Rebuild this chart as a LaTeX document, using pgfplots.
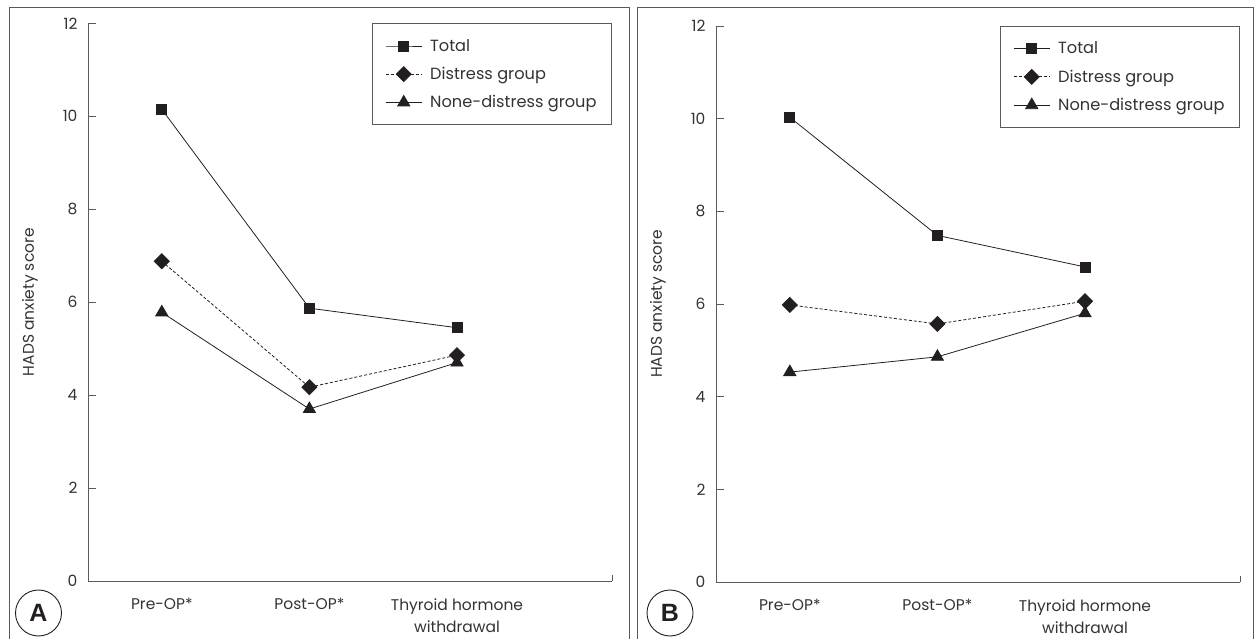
\documentclass[border=0pt]{standalone}
\usepackage{pgfplots}
\usepackage{pgfplotstable}
\pgfplotsset{compat=1.18}
\usepackage{fontspec}
\setmainfont{Poppins}
\newfontfamily\boldfont{Liberation Sans}
\definecolor{ink}{HTML}{231F20}
\definecolor{txt}{HTML}{333333}
\definecolor{axc}{HTML}{5A5A5A}

\pgfplotstableread{
x total distress none
0 10.15 6.88 5.78
1 5.87 4.17 3.70
2 5.45 4.86 4.70
}\dataA
\pgfplotstableread{
x total distress none
0 10.03 5.98 4.53
1 7.48 5.57 4.86
2 6.80 6.06 5.80
}\dataB

\pgfplotsset{
  panel/.style={
    scale only axis, width=524pt,
    xmin=-0.5, xmax=3.05, ymin=0, ymax=12,
    axis x line=bottom, axis y line=left,
    axis line style={-, axc, line width=0.9pt},
    xtick={0,1,2},
    xticklabels={Pre-OP*,Post-OP*,{Thyroid hormone\\withdrawal}},
    major x tick style={draw=none},
    ytick={0,2,...,12},
    tick align=inside, major tick length=8pt,
    major y tick style={axc, line width=0.9pt},
    tick label style={font=\fontsize{15.5}{22}\selectfont, text=txt},
    xticklabel style={align=center, yshift=-14pt},
    yticklabel style={xshift=-7pt},
    /pgf/number format/assume math mode=true,
    ylabel={HADS anxiety score},
    every axis y label/.style={at={(axis description cs:0,0.5)}, xshift=-58pt, rotate=90, anchor=center, font=\fontsize{15.5}{18}\selectfont, text=txt},
    legend style={at={(1,1)}, anchor=north east, draw=axc, line width=0.9pt,
      font=\fontsize{16.2}{18}\selectfont, text=txt, row sep=11.5pt, column sep=6pt,
      inner xsep=13pt, inner ysep=14pt, nodes={inner ysep=1.5pt, inner xsep=2pt}},
    legend cell align=left,
    legend image code/.code={\draw[mark repeat=2, mark phase=2] plot coordinates {(0pt,0pt) (18pt,0pt) (36pt,0pt)};},
    clip=false,
  },
  tot/.style={ink, line width=0.8pt, mark=square*, mark size=5pt, mark options={solid}},
  dis/.style={ink, line width=0.8pt, dash pattern=on 3pt off 2pt, mark=square*, mark size=5.3pt, mark options={solid, rotate=45}},
  non/.style={ink, line width=0.8pt, mark=triangle*, mark size=7pt, mark options={solid}},
}

\begin{document}
\begin{tikzpicture}[x=1pt,y=1pt]
\useasboundingbox (0,0) rectangle (1254,638);
\draw[axc, line width=0.9pt] (9,-5) -- (9,631) -- (629,631) -- (629,-5);
\draw[axc, line width=0.9pt] (637,-5) -- (637,631) -- (1253,631) -- (1253,-5);

\begin{axis}[panel, at={(88pt,57pt)}, anchor=south west, height=557.7pt]
\addplot[tot] table[x=x,y=total] {\dataA};
\addlegendentry{Total}
\addplot[dis] table[x=x,y=distress] {\dataA};
\addlegendentry{Distress group}
\addplot[non] table[x=x,y=none] {\dataA};
\addlegendentry{None-distress group}
\draw[axc, line width=0.9pt] (rel axis cs:1,0) -- ++(0pt,6pt);
\end{axis}

\begin{axis}[panel, at={(716pt,56pt)}, anchor=south west, height=556pt]
\addplot[tot] table[x=x,y=total] {\dataB};
\addlegendentry{Total}
\addplot[dis] table[x=x,y=distress] {\dataB};
\addlegendentry{Distress group}
\addplot[non] table[x=x,y=none] {\dataB};
\addlegendentry{None-distress group}
\draw[axc, line width=0.9pt] (rel axis cs:1,0) -- ++(0pt,6pt);
\end{axis}

\node[circle, draw=ink, line width=0.9pt, minimum size=46pt, inner sep=0pt, font=\boldfont\bfseries\fontsize{25}{25}\selectfont, text=ink] at (38.5,25) {A};
\node[circle, draw=ink, line width=0.9pt, minimum size=46pt, inner sep=0pt, font=\boldfont\bfseries\fontsize{25}{25}\selectfont, text=ink] at (670,25) {B};
\end{tikzpicture}
\end{document}
